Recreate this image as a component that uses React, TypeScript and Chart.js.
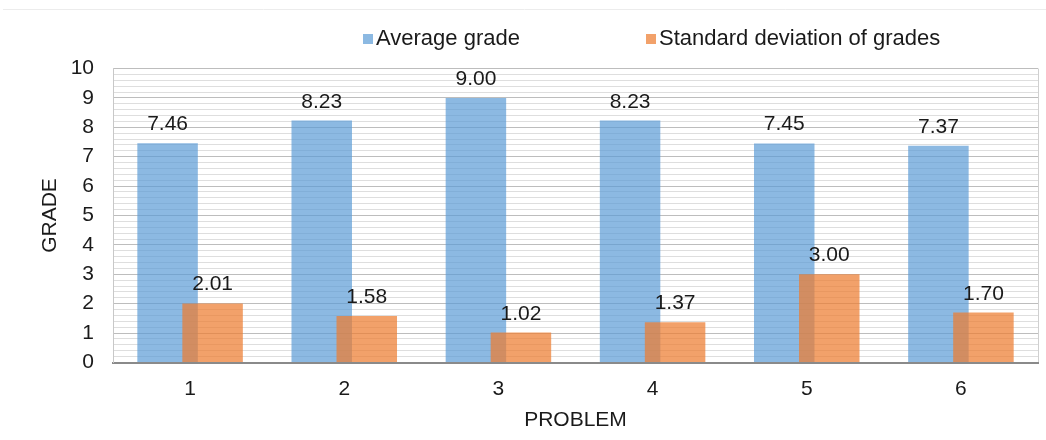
import React, { useEffect, useRef } from "react";
import { Chart, registerables } from "chart.js";

Chart.register(...registerables);

// Grade statistics per problem
const problems = ["1", "2", "3", "4", "5", "6"];
const averageGrade = [7.46, 8.23, 9.0, 8.23, 7.45, 7.37];
const stdDevGrade = [2.01, 1.58, 1.02, 1.37, 3.0, 1.7];
const seriesLabels = ["Average grade", "Standard deviation of grades"];
const seriesColors = ["rgba(91,155,213,0.7)", "rgba(237,125,49,0.72)"];

const FONT = "'Liberation Sans', Arial, sans-serif";

const isWhole = (v: number) => Math.abs(v - Math.round(v)) < 1e-6;

// The second series overlaps the first; it is painted after it so it sits on top.
const OVERLAY_INDEX = 1;

// Value labels above each bar, a thin rule at the top and a custom legend row
const decorations = {
  id: "decorations",
  beforeDraw(chart: any) {
    const { ctx, width } = chart;
    ctx.save();
    ctx.strokeStyle = "#ececec";
    ctx.lineWidth = 1;
    ctx.beginPath();
    ctx.moveTo(3, 9.5);
    ctx.lineTo(width, 9.5);
    ctx.stroke();
    ctx.restore();
  },
  beforeDatasetDraw(chart: any, args: any) {
    if (args.index === OVERLAY_INDEX) return false;
    return true;
  },
  afterDatasetsDraw(chart: any) {
    const { ctx } = chart;
    const overlay = chart.getDatasetMeta(OVERLAY_INDEX);
    if (overlay && overlay.controller) overlay.controller.draw();

    ctx.save();
    ctx.font = `21px ${FONT}`;
    ctx.fillStyle = "#1a1a1a";
    ctx.textAlign = "center";
    ctx.textBaseline = "alphabetic";
    chart.data.datasets.forEach((ds: any, di: number) => {
      const meta = chart.getDatasetMeta(di);
      meta.data.forEach((el: any, i: number) => {
        ctx.fillText(Number(ds.data[i]).toFixed(2), el.x, el.y - 13);
      });
    });
    ctx.restore();
  },
  afterDraw(chart: any) {
    const { ctx } = chart;
    const items = [
      { x: 363, text: chart.data.datasets[0].label, color: chart.data.datasets[0].backgroundColor },
      { x: 646, text: chart.data.datasets[1].label, color: chart.data.datasets[1].backgroundColor },
    ];
    const cy = 39;
    ctx.save();
    ctx.font = `22px ${FONT}`;
    ctx.textAlign = "left";
    ctx.textBaseline = "middle";
    items.forEach((it) => {
      ctx.fillStyle = it.color;
      ctx.fillRect(it.x, cy - 5, 10, 10);
      ctx.fillStyle = "#1a1a1a";
      ctx.fillText(it.text, it.x + 13, cy);
    });
    ctx.restore();
  },
};

export default function App() {
  const canvasRef = useRef<HTMLCanvasElement | null>(null);

  useEffect(() => {
    document.body.style.margin = "0";
    const canvas = canvasRef.current;
    if (!canvas) return;
    Chart.defaults.font.family = FONT;

    const chart = new Chart(canvas, {
      type: "bar",
      data: {
        labels: problems,
        datasets: [
          {
            label: seriesLabels[0],
            data: averageGrade,
            backgroundColor: seriesColors[0],
            borderWidth: 0,
          },
          {
            label: seriesLabels[1],
            data: stdDevGrade,
            backgroundColor: seriesColors[1],
            borderWidth: 0,
          },
        ],
      },
      options: {
        animation: false,
        responsive: true,
        maintainAspectRatio: false,
        layout: { padding: { top: 68.5, right: 8, bottom: 0, left: 0 } },
        datasets: {
          bar: {
            categoryPercentage: 0.584,
            barPercentage: 1.344,
          },
        },
        plugins: {
          legend: { display: false },
          tooltip: { enabled: false },
        },
        scales: {
          x: {
            grid: {
              drawTicks: false,
              color: (ctx: any) => (ctx.type === "tick" ? "rgba(0,0,0,0)" : "#d0d0d0"),
            },
            border: { color: "#8a8a8a", width: 2 },
            ticks: {
              color: "#1a1a1a",
              font: { size: 21 },
              padding: 14,
            },
            title: {
              display: true,
              text: "PROBLEM",
              color: "#1a1a1a",
              font: { size: 21 },
              padding: { top: 0, bottom: 7 },
            },
            afterFit: (scale: any) => {
              scale.height = 77.5;
            },
          },
          y: {
            min: 0,
            max: 10,
            grid: {
              drawTicks: false,
              color: (ctx: any) => {
                const v = ctx.tick ? ctx.tick.value : 0;
                return isWhole(v) ? "#bdbdbd" : "#dedede";
              },
            },
            border: { color: "#c8c8c8", width: 1 },
            ticks: {
              stepSize: 0.2,
              autoSkip: false,
              color: "#1a1a1a",
              font: { size: 21 },
              padding: 19,
              callback: (v: any) => (isWhole(Number(v)) ? String(Math.round(Number(v))) : ""),
            },
            title: {
              display: true,
              text: "GRADE",
              color: "#1a1a1a",
              font: { size: 21 },
              padding: { top: 38, bottom: 0 },
            },
            afterFit: (scale: any) => {
              scale.width = 113;
            },
          },
        },
      },
      plugins: [decorations],
    });

    return () => chart.destroy();
  }, []);

  return (
    <div style={{ width: 1046, height: 440, position: "relative", background: "#fff" }}>
      <canvas ref={canvasRef} />
    </div>
  );
}
